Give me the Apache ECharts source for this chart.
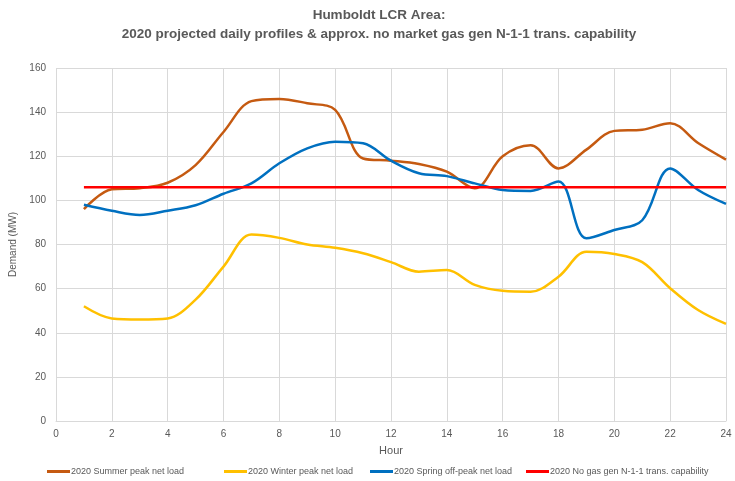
<!DOCTYPE html>
<html><head><meta charset="utf-8">
<script src="https://cdn.jsdelivr.net/npm/echarts@6/dist/echarts.min.js"></script>
<style>html,body{margin:0;padding:0;background:#fff}#c{width:735px;height:481px}</style>
</head><body><div id="c"></div>
<script>
const hours = [1,2,3,4,5,6,7,8,9,10,11,12,13,14,15,16,17,18,19,20,21,22,23,24];
const summer = [96,105,105.5,108,116,131,145,146,144,141,119,118,116.5,113,105.5,120,125,114.5,123,131.5,132,135,126,118.5];
const winter = [52,46.5,46,46.5,55,70,84.5,83,80,78.5,76,72,67.7,68.4,61.7,59,58.6,65.4,76.7,75.7,72,60.2,50.3,44];
const spring = [98,95.3,93.4,95.3,97.8,103,107.7,116.8,123.6,126.6,125.9,118,112.3,111,107.7,104.7,104.3,108.5,82.8,86.6,91,114.5,104.7,98.4];
const capability = [106,106,106,106,106,106,106,106,106,106,106,106,106,106,106,106,106,106,106,106,106,106,106,106];
const names = ['2020 Summer peak net load','2020 Winter peak net load','2020 Spring off-peak net load','2020 No gas gen N-1-1 trans. capability'];
const colors = ['#C55A11','#FFC000','#0070C0','#FF0000'];
const values = [summer, winter, spring, capability];
const legendLeft = [42, 219, 365, 521];
const font = 'Liberation Sans, sans-serif';
const chart = echarts.init(document.getElementById('c'));
chart.setOption({
  animation:false,
  title:{text:'Humboldt LCR Area:\n2020 projected daily profiles & approx. no market gas gen N-1-1 trans. capability',
    left:374, top:1, textAlign:'center',
    textStyle:{fontFamily:font,fontSize:13.5,fontWeight:'bold',color:'#595959',lineHeight:19}},
  grid:{left:56,right:9,top:68,bottom:60},
  legend: names.map((n,i)=>({left:legendLeft[i],top:462,itemWidth:23,itemHeight:3,icon:'rect',
    textStyle:{fontFamily:font,fontSize:9,color:'#595959',padding:[0,0,0,-4]},
    data:[n]})),
  xAxis:{type:'value',min:0,max:24,interval:2,name:'Hour',nameLocation:'middle',nameGap:24,
    nameTextStyle:{fontFamily:font,fontSize:11,color:'#595959'},
    axisLine:{show:true,lineStyle:{color:'#d9d9d9'}},axisTick:{show:false},
    axisLabel:{fontFamily:font,fontSize:10,color:'#595959',margin:8},
    splitLine:{show:true,lineStyle:{color:'#d9d9d9'}}},
  yAxis:{type:'value',min:0,max:160,interval:20,name:'Demand (MW)',nameLocation:'middle',nameGap:32,
    nameTextStyle:{fontFamily:font,fontSize:10,color:'#595959'},
    axisLine:{show:false},axisTick:{show:false},
    axisLabel:{fontFamily:font,fontSize:10,color:'#595959',margin:10},
    splitLine:{show:true,lineStyle:{color:'#d9d9d9'}}},
  series: names.map((n,i)=>({
    name:n,type:'line',smooth:i===3?false:0.35,symbol:'none',
    data:hours.map((h,j)=>[h,values[i][j]]),
    lineStyle:{color:colors[i],width:2.5},itemStyle:{color:colors[i]}
  }))
});
</script></body></html>
